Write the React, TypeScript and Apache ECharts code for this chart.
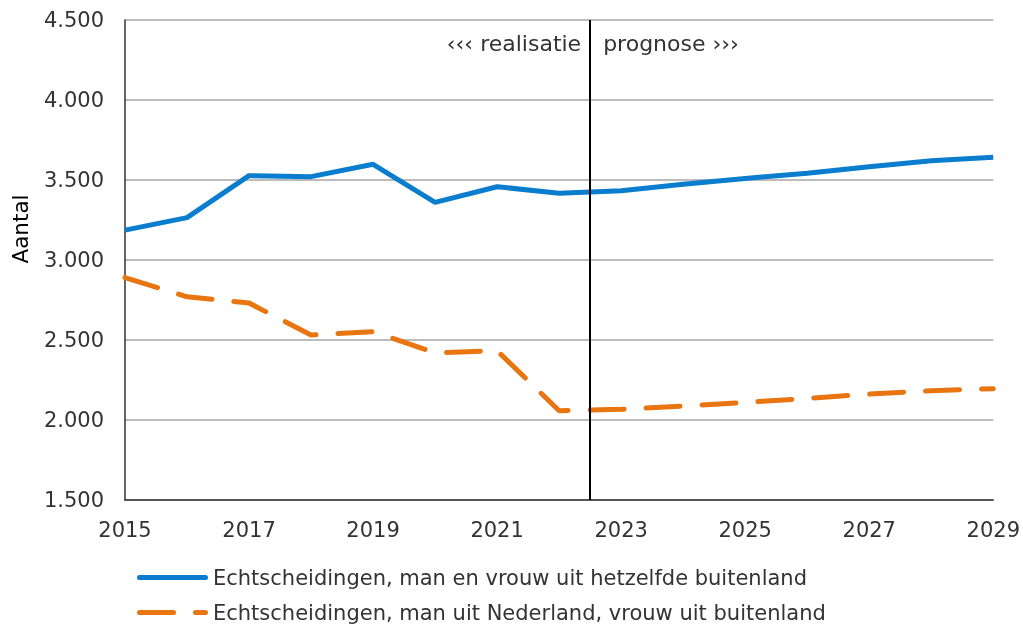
import React, { useEffect, useRef } from "react";
import * as echarts from "echarts";

const years = [2015, 2016, 2017, 2018, 2019, 2020, 2021, 2022, 2023, 2024, 2025, 2026, 2027, 2028, 2029];
const sameCountry = [3187, 3265, 3527, 3521, 3598, 3360, 3458, 3417, 3433, 3473, 3510, 3542, 3583, 3621, 3642];
const manNL = [2890, 2770, 2731, 2531, 2552, 2420, 2433, 2058, 2067, 2087, 2110, 2135, 2162, 2183, 2196];
const seriesNames = [
  "Echtscheidingen, man en vrouw uit hetzelfde buitenland",
  "Echtscheidingen, man uit Nederland, vrouw uit buitenland",
];
const splitYear = 2022.5;
const leftLabel = "\u2039\u2039\u2039 realisatie";
const rightLabel = "prognose \u203A\u203A\u203A";
const yName = "Aantal";

const FONT = "DejaVu Sans";
const TXT = "#333333";
const BLUE = "#0a7dce";
const ORANGE = "#e8750f";

function fmt(v: number) {
  return String(v).replace(/\B(?=(\d{3})+(?!\d))/g, ".");
}

export default function App() {
  const ref = useRef<HTMLDivElement>(null);
  useEffect(() => {
    if (!ref.current) return;
    const chart = echarts.init(ref.current, undefined, { renderer: "svg" });
    const legendCommon = {
      orient: "horizontal",
      left: 137,
      itemWidth: 71,
      itemHeight: 5,
      padding: 0,
      textStyle: { color: TXT, fontSize: 21, fontFamily: FONT },
    };
    chart.setOption({
      animation: false,
      textStyle: { fontFamily: FONT },
      grid: { left: 125, right: 27, top: 20, bottom: 125, containLabel: false },
      xAxis: {
        type: "value",
        min: 2015,
        max: 2029,
        interval: 2,
        axisLine: { show: true, lineStyle: { color: "#333", width: 1.5 } },
        axisTick: { show: false },
        splitLine: { show: false },
        axisLabel: { color: TXT, fontSize: 21, fontFamily: FONT, margin: 19, formatter: (v: number) => String(v) },
      },
      yAxis: {
        type: "value",
        min: 1500,
        max: 4500,
        interval: 500,
        axisLine: { show: true, lineStyle: { color: "#333", width: 1.5 } },
        axisTick: { show: false },
        splitLine: { show: true, lineStyle: { color: "#a6a6a6", width: 1.5 } },
        axisLabel: { color: TXT, fontSize: 21, fontFamily: FONT, margin: 21, formatter: (v: number) => fmt(v) },
      },
      legend: [
        {
          ...legendCommon,
          top: 567,
          data: [
            {
              name: seriesNames[0],
              icon: "path://M2.5,0h66a2.5,2.5 0 0 1 0,5h-66a2.5,2.5 0 0 1 0,-5z",
              itemStyle: { color: BLUE },
            },
          ],
        },
        {
          ...legendCommon,
          top: 602,
          data: [
            {
              name: seriesNames[1],
              icon: "path://M2.5,0h34a2.5,2.5 0 0 1 0,5h-34a2.5,2.5 0 0 1 0,-5z M58.5,0h10a2.5,2.5 0 0 1 0,5h-10a2.5,2.5 0 0 1 0,-5z",
              itemStyle: { color: ORANGE },
            },
          ],
        },
      ],
      series: [
        {
          name: seriesNames[0],
          type: "line",
          data: years.map((y, i) => [y, sameCountry[i]]),
          showSymbol: false,
          symbol: "none",
          lineStyle: { color: BLUE, width: 5 },
          itemStyle: { color: BLUE },
          markLine: {
            silent: true,
            symbol: "none",
            label: { show: false },
            lineStyle: { color: "#000", width: 2, type: "solid" },
            data: [{ xAxis: splitYear }],
          },
        },
        {
          name: seriesNames[1],
          type: "line",
          data: years.map((y, i) => [y, manNL[i]]),
          showSymbol: false,
          symbol: "none",
          lineStyle: { color: ORANGE, width: 5, type: [34, 22], cap: "round" },
          itemStyle: { color: ORANGE },
        },
      ],
    });
    const px = chart.convertToPixel({ xAxisIndex: 0 }, splitYear) as number;
    chart.setOption({
      graphic: [
        {
          type: "text",
          x: px - 9,
          y: 43,
          style: { text: leftLabel, fontSize: 22, fontFamily: FONT, fill: TXT, align: "right", verticalAlign: "middle" },
        },
        {
          type: "text",
          x: px + 13,
          y: 43,
          style: { text: rightLabel, fontSize: 22, fontFamily: FONT, fill: TXT, align: "left", verticalAlign: "middle" },
        },
        {
          type: "text",
          x: 20,
          y: 229,
          rotation: Math.PI / 2,
          style: { text: yName, fontSize: 21.5, fontFamily: FONT, fill: "#000", align: "center", verticalAlign: "middle" },
        },
      ],
    });
    return () => chart.dispose();
  }, []);
  return <div ref={ref} style={{ position: "fixed", left: 0, top: 0, width: 1023, height: 625 }} />;
}
